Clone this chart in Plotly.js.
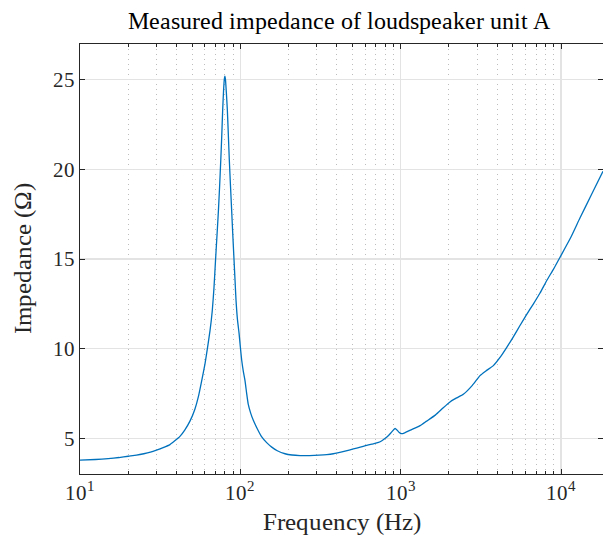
<!DOCTYPE html>
<html>
<head>
<meta charset="utf-8">
<script src="https://cdn.plot.ly/plotly-3.0.1.min.js"></script>
<style>
@font-face { font-family: 'RefSerif'; src: local('Liberation Serif'), local('LiberationSerif'), local('LiberationSerif-Regular'), local('DejaVu Serif'), local('DejaVuSerif'), local('Times New Roman'); }
html,body{margin:0;padding:0;background:#fff;}#chart{width:603px;height:542px;}
</style>
</head>
<body>
<div id="chart"></div>
<script>
const freqHz = [10,12.5,15,17.5,20,22.5,25,27.5,30,33,36.4,39,42,45,48.5,52,54.7,57.4,60.2,62.3,64.7,66.8,68.5,70,71.5,73,74.3,75.5,76.6,77.6,78.6,79.4,80.1,80.8,81.8,83,84.2,85.4,86.8,88.3,89.8,91.4,92.8,94,96,98.2,100,102,104.5,107,109.5,112,116,120.5,128,136,146,157,170,190,210,236,270,310,346,380,450,507,560,614,661,700,745,790,840,880,923,950,980,1013,1060,1150,1322,1452,1650,1845,2050,2237,2460,2800,3126,3400,3785,4200,4590,5000,5560,6100,6734,7400,8150,9000,9862,11500,13150,15500,18280];
const impedanceOhm = [3.77,3.81,3.86,3.92,3.99,4.05,4.13,4.22,4.33,4.47,4.64,4.85,5.1,5.45,5.95,6.6,7.3,8.2,9.15,10.0,11.0,12.1,13.4,14.9,16.3,17.7,19.1,20.5,21.9,23.3,24.4,25.0,25.2,25.0,24.3,23.3,21.9,20.5,19.1,17.7,16.3,14.9,13.7,12.7,11.6,10.85,10.1,9.35,8.7,8.2,7.5,6.9,6.4,6.0,5.5,5.07,4.75,4.5,4.3,4.13,4.06,4.03,4.03,4.05,4.08,4.13,4.28,4.4,4.5,4.6,4.67,4.72,4.8,4.95,5.15,5.35,5.54,5.45,5.32,5.25,5.3,5.45,5.7,5.95,6.3,6.7,7.05,7.25,7.45,7.95,8.49,8.75,9.05,9.55,10.07,10.6,11.3,11.9,12.5,13.1,13.8,14.45,15.1,16.2,17.3,18.6,19.9];
const xMajorTicks = [10,100,1000,10000];
const xMajorLabels = ["10<sup>1</sup>","10<sup>2</sup>","10<sup>3</sup>","10<sup>4</sup>"];
const xMinorTicks = [20,30,40,50,60,70,80,90,200,300,400,500,600,700,800,900,2000,3000,4000,5000,6000,7000,8000,9000];
const yTicks = [5,10,15,20,25];

const font = "RefSerif, 'Liberation Serif', 'DejaVu Serif', serif";
const trace = {
  x: freqHz, y: impedanceOhm, type: 'scatter', mode: 'lines',
  line: {color: '#0072BD', width: 1.3, shape: 'spline', smoothing: 0.5}, hoverinfo: 'skip'
};
const layout = {
  width: 603, height: 542,
  margin: {l: 80, r: 0, t: 44, b: 68},
  paper_bgcolor: '#fff', plot_bgcolor: '#fff',
  showlegend: false,
  font: {family: font},
  title: {text: 'Measured impedance of loudspeaker unit A', font: {family: font, size: 24, color: '#000'},
          x: 0.562, xanchor: 'center', y: 0.962, yanchor: 'middle'},
  xaxis: {
    type: 'log', range: [1, Math.log10(18280)],
    tickmode: 'array', tickvals: xMajorTicks, ticktext: xMajorLabels,
    ticks: 'inside', ticklen: 5, tickcolor: '#262626', tickwidth: 1,
    showline: true, linecolor: '#262626', linewidth: 1, mirror: 'ticks',
    showgrid: true, gridcolor: '#e3e3e3', gridwidth: 1.2,
    minor: {tickmode: 'array', tickvals: xMinorTicks, showgrid: true, gridcolor: '#bdbdbd', griddash: '1px,4px', gridwidth: 1,
            ticks: 'inside', ticklen: 3, tickcolor: '#262626'},
    tickfont: {family: font, size: 21, color: '#262626'},
    title: {text: 'Frequency (Hz)', font: {family: font, size: 25, color: '#262626'}, standoff: 8},
    zeroline: false
  },
  yaxis: {
    range: [3, 27],
    tickmode: 'array', tickvals: yTicks,
    ticks: 'inside', ticklen: 5, tickcolor: '#262626',
    showline: true, linecolor: '#262626', linewidth: 1, mirror: 'ticks',
    showgrid: true, gridcolor: '#e3e3e3', gridwidth: 1.2,
    tickfont: {family: font, size: 21, color: '#262626'},
    title: {text: 'Impedance (Ω)', font: {family: font, size: 25, color: '#262626'}, standoff: 14},
    zeroline: false
  }
};
Plotly.newPlot('chart', [trace], layout, {staticPlot: true, displayModeBar: false});
</script>
</body>
</html>
